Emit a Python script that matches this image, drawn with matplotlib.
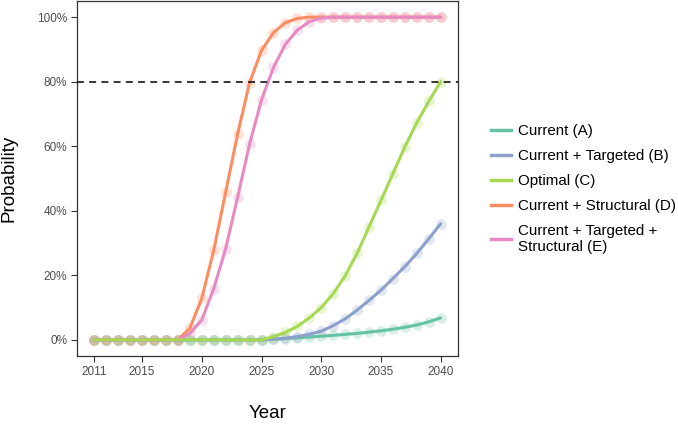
import numpy as np
import matplotlib
matplotlib.use("Agg")
import matplotlib.pyplot as plt
from matplotlib.lines import Line2D
from matplotlib.ticker import FuncFormatter

plt.rcParams['font.family'] = ['Liberation Sans', 'DejaVu Sans']

years = np.arange(2011, 2041)

zeros15 = [0.0] * 15
current_a = zeros15 + [0.2, 0.4, 0.6, 0.9, 1.1, 1.4, 1.7, 2.0, 2.4, 2.8, 3.3, 3.9, 4.6, 5.6, 6.8]
targeted_b = zeros15 + [0.2, 0.5, 1.0, 1.7, 2.7, 4.4, 6.5, 9.2, 12.2, 15.4, 19.0, 22.7, 26.8, 31.3, 36.0]
optimal_c = zeros15 + [1.0, 2.3, 4.2, 6.8, 10.0, 14.3, 19.8, 26.8, 35.0, 43.2, 51.5, 59.8, 67.3, 73.9, 80.0]
structural_d = [0.0] * 8 + [3.6, 12.9, 27.8, 45.8, 63.8, 79.7, 89.7, 95.2, 98.3, 99.6] + [100.0] * 12
targ_struct_e = [0.0] * 8 + [2.0, 6.2, 15.9, 28.3, 44.2, 60.7, 74.4, 84.4, 91.6, 96.0, 98.6, 99.7] + [100.0] * 10

labels = ["Current (A)", "Current + Targeted (B)", "Optimal (C)",
          "Current + Structural (D)", "Current + Targeted +\nStructural (E)"]
colors = ["#66C2A5", "#8DA0CB", "#A6D854", "#FC8D62", "#E78AC3"]
series = [current_a, targeted_b, optimal_c, structural_d, targ_struct_e]

fig = plt.figure(figsize=(6.78, 4.24), dpi=100)
ax = fig.add_axes([77 / 678, 1 - 356 / 424, (458 - 77) / 678, 355 / 424])

# draw order: A, B, D, E, C (green ends up on top)
for i in [0, 1, 3, 4, 2]:
    ax.scatter(years, series[i], s=60, color=colors[i], alpha=0.25, lw=0, zorder=2)
for i in [0, 1, 3, 4, 2]:
    ax.plot(years, series[i], color=colors[i], lw=2.2, zorder=3, solid_capstyle='round')

ax.axhline(80, color='black', lw=1.1, ls=(0, (4.5, 3.5)), zorder=4)

ax.set_xlim(2009.55, 2041.45)
ax.set_ylim(-5, 105)
ax.set_xticks([2011, 2015, 2020, 2025, 2030, 2035, 2040])
ax.set_yticks([0, 20, 40, 60, 80, 100])
ax.yaxis.set_major_formatter(FuncFormatter(lambda v, p: f"{int(v)}%"))
ax.tick_params(axis='both', direction='out', length=4, width=0.8, color='#333333',
               labelsize=8.5, labelcolor='#4D4D4D', pad=3)
for sp in ax.spines.values():
    sp.set_color('#333333')
    sp.set_linewidth(0.9)

ax.set_xlabel("Year", fontsize=13.5, labelpad=20)
ax.set_ylabel("Probability", fontsize=13.5, labelpad=14)

handles = [Line2D([0], [0], color=c, lw=2.5) for c in colors]
fig.legend(handles, labels, loc='center left', bbox_to_anchor=(491 / 678, 1 - 189 / 424),
           frameon=False, fontsize=10.9, handlelength=1.33, handletextpad=0.46,
           labelspacing=0.72, borderpad=0, borderaxespad=0)

fig.savefig("out.png", dpi=100, facecolor='white')
